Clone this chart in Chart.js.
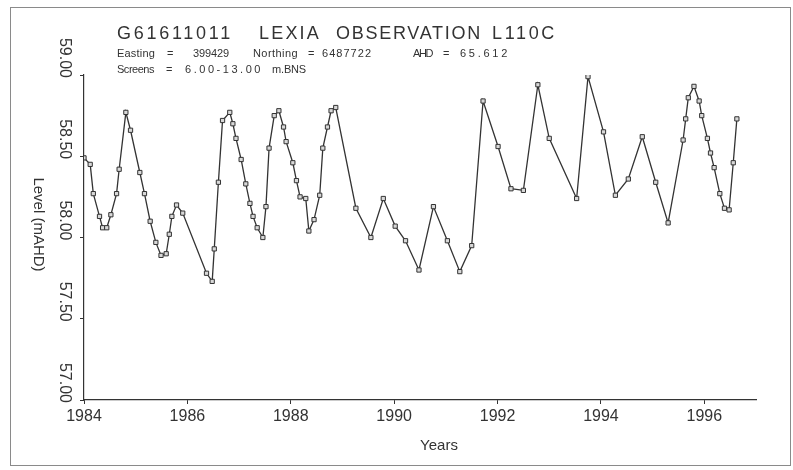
<!DOCTYPE html>
<html lang="en">
<head>
    <meta charset="UTF-8">
    <title>G61611011 LEXIA OBSERVATION L110C</title>
    <style>
        body {
            margin: 0;
            padding: 0;
            background-color: #ffffff;
        }
        #wrap {
            position: relative;
            width: 793px;
            height: 470px;
        }
    </style>
    <script src="https://cdn.jsdelivr.net/npm/chart.js"></script>
</head>
<body>
    <div id="wrap">
        <canvas id="plot" width="793" height="470"></canvas>
    </div>

    <script>
        // sample dates (decimal years) and water level (m AHD)
        const years = [
            1984.00, 1984.12, 1984.18, 1984.30, 1984.36, 1984.44, 1984.52, 1984.63, 1984.68, 1984.81,
            1984.90, 1985.08, 1985.17, 1985.28, 1985.39, 1985.49, 1985.59, 1985.65, 1985.70, 1985.79,
            1985.91, 1986.37, 1986.48, 1986.52, 1986.60, 1986.68, 1986.82, 1986.88, 1986.94, 1987.04,
            1987.13, 1987.21, 1987.27, 1987.35, 1987.46, 1987.52, 1987.58, 1987.68, 1987.77, 1987.86,
            1987.91, 1988.04, 1988.11, 1988.18, 1988.29, 1988.35, 1988.45, 1988.56, 1988.62, 1988.71,
            1988.78, 1988.87, 1989.26, 1989.55, 1989.79, 1990.02, 1990.22, 1990.48, 1990.76, 1991.03,
            1991.27, 1991.50, 1991.72, 1992.01, 1992.26, 1992.50, 1992.78, 1993.00, 1993.53, 1993.75,
            1994.05, 1994.28, 1994.53, 1994.80, 1995.06, 1995.30, 1995.59, 1995.64, 1995.69, 1995.80,
            1995.90, 1995.95, 1996.06, 1996.12, 1996.19, 1996.30, 1996.39, 1996.48, 1996.56, 1996.63
        ];
        const levels = [
            58.49, 58.45, 58.27, 58.13, 58.06, 58.06, 58.14, 58.27, 58.42, 58.77,
            58.66, 58.40, 58.27, 58.10, 57.97, 57.89, 57.90, 58.02, 58.13, 58.20,
            58.15, 57.78, 57.73, 57.93, 58.34, 58.72, 58.77, 58.70, 58.61, 58.48,
            58.33, 58.21, 58.13, 58.06, 58.00, 58.19, 58.55, 58.75, 58.78, 58.68,
            58.59, 58.46, 58.35, 58.25, 58.24, 58.04, 58.11, 58.26, 58.55, 58.68,
            58.78, 58.80, 58.18, 58.00, 58.24, 58.07, 57.98, 57.80, 58.19, 57.98,
            57.79, 57.95, 58.84, 58.56, 58.30, 58.29, 58.94, 58.61, 58.24, 58.99,
            58.65, 58.26, 58.36, 58.62, 58.34, 58.09, 58.60, 58.73, 58.86, 58.93,
            58.84, 58.75, 58.61, 58.52, 58.43, 58.27, 58.18, 58.17, 58.46, 58.73
        ];

        const titleText = ['G61611011', 'LEXIA', 'OBSERVATION', 'L110C'];
        const infoLine1 = ['Easting', '=', '399429', 'Northing', '=', '6487722', 'AHD', '=', '65.612'];
        const infoLine2 = ['Screens', '=', '6.00-13.00', 'm.BNS'];
        const xTitle = 'Years';
        const yTitle = 'Level (mAHD)';

        const ink = '#333333';
        const font = "'Liberation Sans', Arial, sans-serif";

        // stretch a word between two x positions (the plotter font is wide)
        function fitText(ctx, text, x0, x1, y) {
            ctx.letterSpacing = '0px';
            const w = ctx.measureText(text).width;
            const sp = (x1 - x0 - w) / Math.max(text.length, 1);
            ctx.letterSpacing = sp.toFixed(2) + 'px';
            ctx.fillText(text, x0, y);
            ctx.letterSpacing = '0px';
        }

        const framePlugin = {
            id: 'frame',
            beforeDraw(chart) {
                const ctx = chart.ctx;
                ctx.save();
                ctx.fillStyle = '#ffffff';
                ctx.fillRect(0, 0, chart.width, chart.height);
                ctx.strokeStyle = '#8a8a8a';
                ctx.lineWidth = 1;
                ctx.strokeRect(10.5, 7.5, chart.width - 13, chart.height - 12);
                ctx.restore();
            }
        };

        const headerPlugin = {
            id: 'header',
            afterDraw(chart) {
                const ctx = chart.ctx;
                const xs = chart.scales.x, ys = chart.scales.y;
                ctx.save();
                ctx.fillStyle = ink;
                ctx.textBaseline = 'alphabetic';
                ctx.textAlign = 'left';

                ctx.font = '18px ' + font;
                const tPos = [[117, 233], [259, 321], [336, 482], [492, 557]];
                titleText.forEach((t, i) => fitText(ctx, t, tPos[i][0], tPos[i][1], 39));

                ctx.font = '11px ' + font;
                const p1 = [[117, 155], [167, 173], [193, 229], [253, 298], [308, 315],
                            [322, 372], [413, 432], [443, 450], [460, 510]];
                infoLine1.forEach((t, i) => fitText(ctx, t, p1[i][0], p1[i][1], 57));
                const p2 = [[117, 154], [166, 172], [185, 263], [272, 306]];
                infoLine2.forEach((t, i) => fitText(ctx, t, p2[i][0], p2[i][1], 73));

                // axis titles
                ctx.font = '15px ' + font;
                ctx.textAlign = 'center';
                ctx.fillText(xTitle, (xs.left + xs.right) / 2 + 19, 450);

                ctx.translate(38, (ys.top + ys.bottom) / 2 - 13);
                ctx.rotate(Math.PI / 2);
                ctx.textBaseline = 'middle';
                ctx.fillText(yTitle, 0, 0);
                ctx.restore();
            }
        };

        const points = years.map((yr, i) => ({ x: yr, y: levels[i] }));

        const ctx = document.getElementById('plot').getContext('2d');
        const chart = new Chart(ctx, {
            type: 'line',
            data: {
                datasets: [{
                    label: 'Level',
                    data: points,
                    borderColor: ink,
                    borderWidth: 1.3,
                    pointStyle: 'rect',
                    pointRadius: 3,
                    pointBorderWidth: 1,
                    pointBorderColor: ink,
                    pointBackgroundColor: '#d8d8d8',
                    fill: false,
                    tension: 0
                }]
            },
            options: {
                responsive: false,
                animation: false,
                layout: { padding: { left: 0, top: 75, right: 37, bottom: 40 } },
                plugins: {
                    legend: { display: false },
                    tooltip: { enabled: false }
                },
                scales: {
                    x: {
                        type: 'linear',
                        min: 1984,
                        max: 1997,
                        afterFit: (s) => { s.height = 30; },
                        border: { color: ink, width: 1.2 },
                        grid: { drawOnChartArea: false, tickLength: 4, color: ink },
                        ticks: {
                            stepSize: 2,
                            includeBounds: false,
                            padding: 3,
                            color: ink,
                            font: { family: font, size: 16 },
                            maxRotation: 0,
                            callback: (v) => String(v)
                        }
                    },
                    y: {
                        min: 57,
                        max: 59,
                        afterFit: (s) => { s.width = 84; },
                        border: { color: ink, width: 1.2 },
                        grid: { drawOnChartArea: false, tickLength: 4, color: ink },
                        ticks: {
                            stepSize: 0.5,
                            padding: 16,
                            labelOffset: 3,
                            color: ink,
                            minRotation: -90,
                            maxRotation: -90,
                            font: { family: font, size: 16 },
                            callback: (v) => v.toFixed(2)
                        }
                    }
                }
            },
            plugins: [framePlugin, headerPlugin]
        });
    </script>
</body>
</html>
